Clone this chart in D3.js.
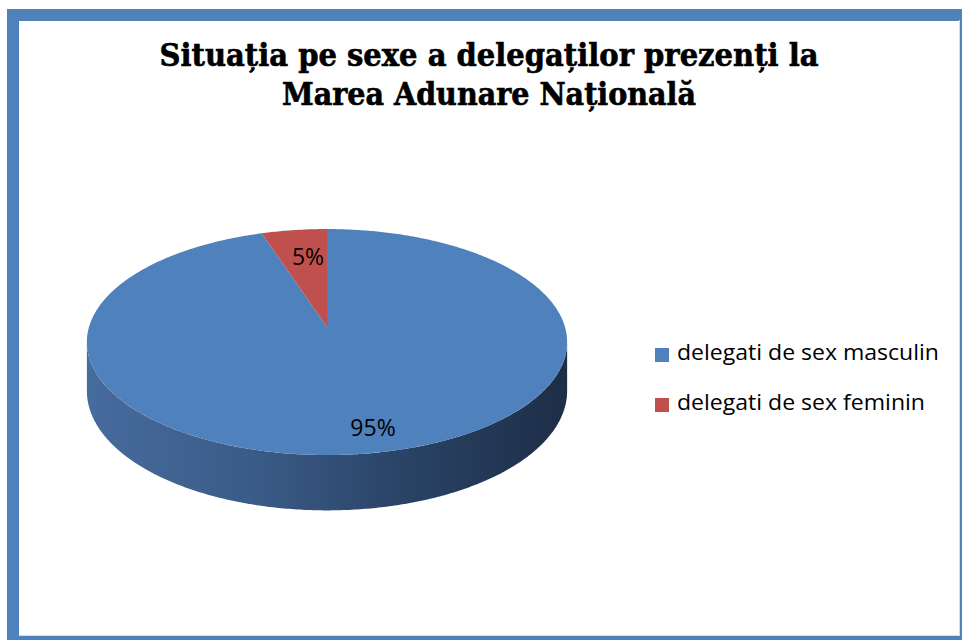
<!DOCTYPE html>
<html>
<head>
<meta charset="utf-8">
<script src="https://cdn.jsdelivr.net/npm/d3@7"></script>
<style>
  html, body { margin: 0; padding: 0; background: #fff; }
  svg { display: block; }
</style>
</head>
<body>
<div id="chart"></div>
<script>
const titleLines = ["Situația pe sexe a delegaților prezenți la", "Marea Adunare Națională"];
const categories = ["delegati de sex masculin", "delegati de sex feminin"];
const values = [95, 5];
const labels = ["95%", "5%"];
const colors = ["#4f81bd", "#c0504d"];

const width = 962;
const height = 640;

const svg = d3
  .select("#chart")
  .append("svg")
  .attr("width", width)
  .attr("height", height);

svg.append("rect").attr("width", width).attr("height", height).attr("fill", "#fff");

// frame
svg
  .append("rect")
  .attr("x", 13)
  .attr("y", 15)
  .attr("width", 953)
  .attr("height", 627)
  .attr("fill", "none")
  .attr("stroke", "#4f81bd")
  .attr("stroke-width", 12);
svg.append("line").attr("x1", 19).attr("x2", 960).attr("y1", 635.5).attr("y2", 635.5)
  .attr("stroke", "#d6dde8");
svg.append("line").attr("x1", 959.5).attr("x2", 959.5).attr("y1", 20).attr("y2", 636)
  .attr("stroke", "#d6dde8");

// title
const titleWidths = [659, 414];
svg
  .append("g")
  .selectAll("text")
  .data(titleLines)
  .join("text")
  .attr("x", 489)
  .attr("y", (d, i) => 66 + i * 39)
  .attr("text-anchor", "middle")
  .attr("font-family", "'DejaVu Serif', 'Liberation Serif', serif")
  .attr("font-stretch", "condensed")
  .attr("font-weight", "bold")
  .attr("font-size", 32)
  .attr("stroke", "#000")
  .attr("stroke-width", 0.6)
  .attr("textLength", (d, i) => titleWidths[i])
  .attr("lengthAdjust", "spacingAndGlyphs")
  .attr("fill", "#000")
  .text((d) => d);

// 3D pie projection
const cx = 327, cy = 327;
const A = 238, B = 111, p = 0.133, depth = 48;

const project = (theta, down) => {
  const u = Math.sin(theta);
  const w = -Math.cos(theta);
  const f = 1 / (1 - p * w);
  return [cx + A * u * f, cy + B * w * f + (down ? depth * f : 0)];
};

const pie = d3.pie().sort(null).value((d) => d);
const arcs = pie(values);
const line = d3.line();

const sample = (a0, a1, down) => {
  const n = Math.max(2, Math.ceil(Math.abs(a1 - a0) / 0.01));
  return d3.range(n + 1).map((k) => project(a0 + ((a1 - a0) * k) / n, down));
};

const defs = svg.append("defs");
const grad = defs
  .append("linearGradient")
  .attr("id", "side-blue")
  .attr("gradientUnits", "userSpaceOnUse")
  .attr("x1", cx - A)
  .attr("x2", cx + A)
  .attr("y1", 0)
  .attr("y2", 0);
grad.selectAll("stop")
  .data([[0, "#466b9d"], [0.35, "#3a5b87"], [0.65, "#2a4467"], [1, "#1d2e47"]])
  .join("stop")
  .attr("offset", (d) => d[0])
  .attr("stop-color", (d) => d[1]);

const visFrom = Math.acos(-p);
const visTo = 2 * Math.PI - visFrom;

// sides
arcs.forEach((a, i) => {
  const s0 = Math.max(a.startAngle, visFrom);
  const s1 = Math.min(a.endAngle, visTo);
  if (s1 <= s0) return;
  const pts = sample(s0, s1, false).concat(sample(s1, s0, true));
  svg
    .append("path")
    .attr("d", line(pts) + "Z")
    .attr("fill", i === 0 ? "url(#side-blue)" : d3.color(colors[i]).darker(1));
});

// top faces
svg
  .append("g")
  .selectAll("path")
  .data(arcs)
  .join("path")
  .attr("d", (a) => line([[cx, cy]].concat(sample(a.startAngle, a.endAngle, false))) + "Z")
  .attr("fill", (a, i) => colors[i]);

// data labels
const labelPos = [[373, 436], [308, 265]];
svg
  .append("g")
  .selectAll("text")
  .data(labels)
  .join("text")
  .attr("x", (d, i) => labelPos[i][0])
  .attr("y", (d, i) => labelPos[i][1])
  .attr("text-anchor", "middle")
  .attr("font-family", "'Open Sans', 'Noto Sans', sans-serif")
  .attr("font-size", 23)
  .attr("fill", "#000")
  .text((d) => d);

// legend
const legendWidths = [262, 248];
const legend = svg
  .append("g")
  .selectAll("g")
  .data(categories)
  .join("g")
  .attr("transform", (d, i) => `translate(655, ${348 + i * 50})`);
legend
  .append("rect")
  .attr("width", 14)
  .attr("height", 14)
  .attr("fill", (d, i) => colors[i]);
legend
  .append("text")
  .attr("x", 22)
  .attr("y", 12)
  .attr("font-family", "'Open Sans', 'Noto Sans', sans-serif")
  .attr("font-size", 21)
  .attr("textLength", (d, i) => legendWidths[i])
  .attr("lengthAdjust", "spacingAndGlyphs")
  .attr("fill", "#000")
  .text((d) => d);
</script>
</body>
</html>
